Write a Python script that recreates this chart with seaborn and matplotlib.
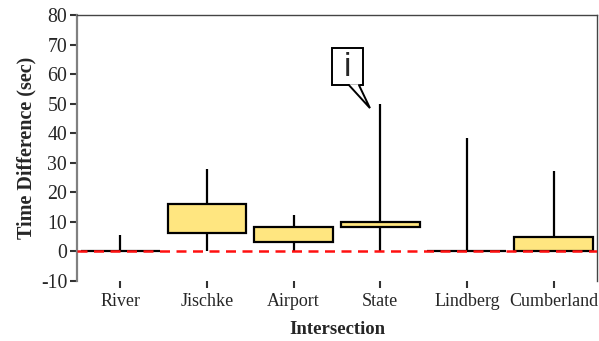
import matplotlib
matplotlib.use("Agg")
import matplotlib.pyplot as plt
from matplotlib.patches import Rectangle, Polygon
import seaborn as sns
import pandas as pd

categories = ["River", "Jischke", "Airport", "State", "Lindberg", "Cumberland"]
whisker_low = [0, 0, 0, 0, 0, 0]
q1 = [0, 6.2, 3.2, 8.2, 0, 0]
median = [0, 11, 5.5, 9, 0, 2.5]
q3 = [0, 16.1, 8.2, 9.9, 0, 5.0]
whisker_high = [5.6, 28.0, 12.2, 49.9, 38.3, 27.3]
yticks = [-10, 0, 10, 20, 30, 40, 50, 60, 70, 80]

rows = []
for i, c in enumerate(categories):
    for v in (whisker_low[i], q1[i], median[i], q3[i], whisker_high[i]):
        rows.append({"Intersection": c, "Time": v})
df = pd.DataFrame(rows)

sns.set_style("ticks")
plt.rcParams["font.family"] = ["Liberation Serif", "DejaVu Serif"]

fig = plt.figure(figsize=(5.99, 3.41), dpi=100)
ax = fig.add_axes([0.1285, 0.176, 0.868, 0.78])

sns.boxplot(data=df, x="Intersection", y="Time", order=categories, ax=ax,
            whis=(0, 100), width=0.91, color="#FFE680", saturation=1,
            showcaps=False, linecolor="black", linewidth=1.6,
            medianprops={"linewidth": 0}, fliersize=0)

ax.axhline(0, color="#FF1010", linestyle=(0, (4, 2.6)), linewidth=1.8, zorder=10)

ax.set_xlim(-0.5, 5.5)
ax.set_ylim(-10, 80)
ax.set_yticks(yticks)
ax.set_yticklabels([str(t) for t in yticks])
ax.tick_params(axis="both", length=5, width=1.5, color="#333333", direction="out")
ax.tick_params(axis="x", labelsize=13)
ax.tick_params(axis="y", labelsize=14.3, pad=2)
ax.set_xlabel("Intersection", fontsize=13.5, fontweight="bold", labelpad=8)
ax.set_ylabel("Time Difference (sec)", fontsize=14.5, fontweight="bold", labelpad=3)

for s in ["left", "top", "right"]:
    ax.spines[s].set_visible(True)
ax.spines["left"].set_color("#808080")
ax.spines["left"].set_linewidth(1.6)
ax.spines["top"].set_color("#444444")
ax.spines["top"].set_linewidth(1.0)
ax.spines["right"].set_color("#444444")
ax.spines["right"].set_linewidth(1.0)
ax.spines["bottom"].set_visible(False)

# callout "i"
ax.add_patch(Rectangle((2.442, 56.3), 0.358, 12.5, fc="white", ec="black",
                       lw=1.4, zorder=20, clip_on=False))
ax.add_patch(Polygon([(2.638, 56.3), (2.754, 56.3), (2.881, 48.5)], closed=True,
                     fc="white", ec="none", zorder=21, clip_on=False))
ax.plot([2.638, 2.881, 2.754], [56.3, 48.5, 56.3], color="black", lw=1.4,
        zorder=22, solid_joinstyle="miter")
ax.plot([2.638, 2.754], [56.3, 56.3], color="white", lw=1.8, zorder=21.5,
        solid_capstyle="butt")
ax.text(2.621, 62.4, "i", fontsize=24, family="Liberation Sans", ha="center",
        va="center", zorder=23)

fig.savefig("out.png", dpi=100)
